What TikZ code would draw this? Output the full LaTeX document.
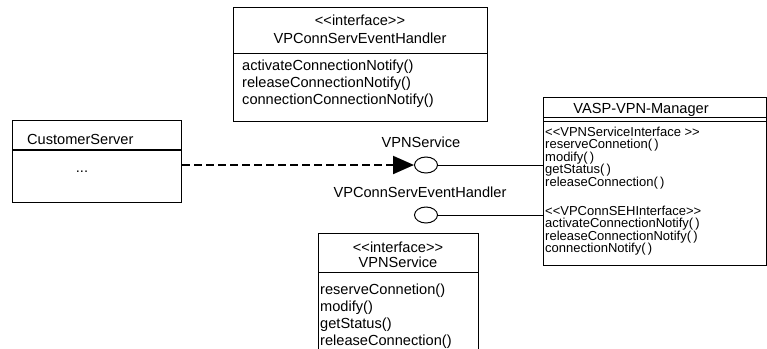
\documentclass[tikz,border=0pt]{standalone}
\usepackage{fontspec}
\newfontfamily\umlfont{Liberation Sans}
\usetikzlibrary{arrows.meta,shapes.geometric}
\begin{document}
\begin{tikzpicture}[x=1pt,y=-1pt,
  box/.style={draw, line width=1pt, inner sep=0pt, anchor=north west},
  txt/.style={inner sep=0pt, font=\umlfont\fontsize{14.6}{17}\selectfont},
  ln/.style={txt, anchor=base west},
  cn/.style={txt, anchor=base},
  mln/.style={inner sep=0pt, anchor=base west, font=\umlfont\fontsize{13}{12.5}\selectfont},
  lolly/.style={draw, line width=1pt, ellipse, minimum width=23pt, minimum height=16pt, inner sep=0pt},
  link/.style={line width=1pt},
]
\useasboundingbox (0,0) rectangle (767,348);
\clip (0,0) rectangle (767,348);

% class boxes
\node[box, minimum width=169pt, minimum height=82pt] (cs) at (12,120) {};
\node[box, minimum width=254pt, minimum height=114pt] (ifa) at (233,7) {};
\node[box, minimum width=160pt, minimum height=130pt] (ifb) at (318,233) {};
\node[box, minimum width=223pt, minimum height=168pt] (mgr) at (543,97) {};

% compartment separators
\draw[line width=2pt] ([yshift=-30pt]cs.north west) -- ([yshift=-30pt]cs.north east);
\draw[line width=1pt] ([yshift=-46pt]ifa.north west) -- ([yshift=-46pt]ifa.north east);
\draw[line width=1pt] ([yshift=-39pt]ifb.north west) -- ([yshift=-39pt]ifb.north east);
\draw[line width=1pt] ([yshift=-20pt]mgr.north west) -- ([yshift=-20pt]mgr.north east);
\draw[line width=1pt] ([yshift=-24pt]mgr.north west) -- ([yshift=-24pt]mgr.north east);

% CustomerServer
\node[ln] (csname) at (27,144) {CustomerServer};
\node[cn] (csdots) at (82,172) {...};

% VPConnServEventHandler interface
\node[cn] (ifast) at (360,25) {<<interface>>};
\node[cn] (ifaname) at (360,43) {VPConnServEventHandler};
\node[ln] (ifam1) at (242,70) {activateConnectionNotify()};
\node[ln] (ifam2) at (242,87) {releaseConnectionNotify()};
\node[ln] (ifam3) at (242,104) {connectionConnectionNotify()};

% VPNService interface
\node[cn] (ifbst) at (398,252) {<<interface>>};
\node[cn] (ifbname) at (398,267) {VPNService};
\node[ln] (ifbm1) at (320,294) {reserveConnetion()};
\node[ln] (ifbm2) at (320,311) {modify()};
\node[ln] (ifbm3) at (320,328) {getStatus()};
\node[ln] (ifbm4) at (320,345) {releaseConnection()};

% VASP-VPN-Manager
\node[cn] (mgrname) at (641,113) {VASP-VPN-Manager};
\node[mln] (mg1) at (545,136) {<<VPNServiceInterface >>};
\node[mln] (mg2) at (545,148.5) {reserveConnetion(\,)};
\node[mln] (mg3) at (545,161) {modify(\,)};
\node[mln] (mg4) at (545,173.5) {getStatus(\,)};
\node[mln] (mg5) at (545,186) {releaseConnection(\,)};
\node[mln] (mg6) at (545,215) {<<VPConnSEHInterface>>};
\node[mln] (mg7) at (545,227.5) {activateConnectionNotify(\,)};
\node[mln] (mg8) at (545,240) {releaseConnectionNotify(\,)};
\node[mln] (mg9) at (545,252.5) {connectionNotify(\,)};

% provided interfaces (lollipops)
\node[lolly] (lpa) at (426,165) {};
\node[lolly] (lpb) at (426,215) {};
\node[cn] (lpalabel) at (421,147) {VPNService};
\node[cn] (lpblabel) at (420,197) {VPConnServEventHandler};
\draw[link] (lpa.east) -- (mgr.west |- lpa.east);
\draw[link] (lpb.east) -- (mgr.west |- lpb.east);

% dependency of CustomerServer on VPNService
\draw[line width=2pt, dash pattern=on 8pt off 4pt,
      -{Triangle[length=21pt,width=18pt]}] (cs.east |- lpa.west) -- (lpa.west);
\end{tikzpicture}
\end{document}
